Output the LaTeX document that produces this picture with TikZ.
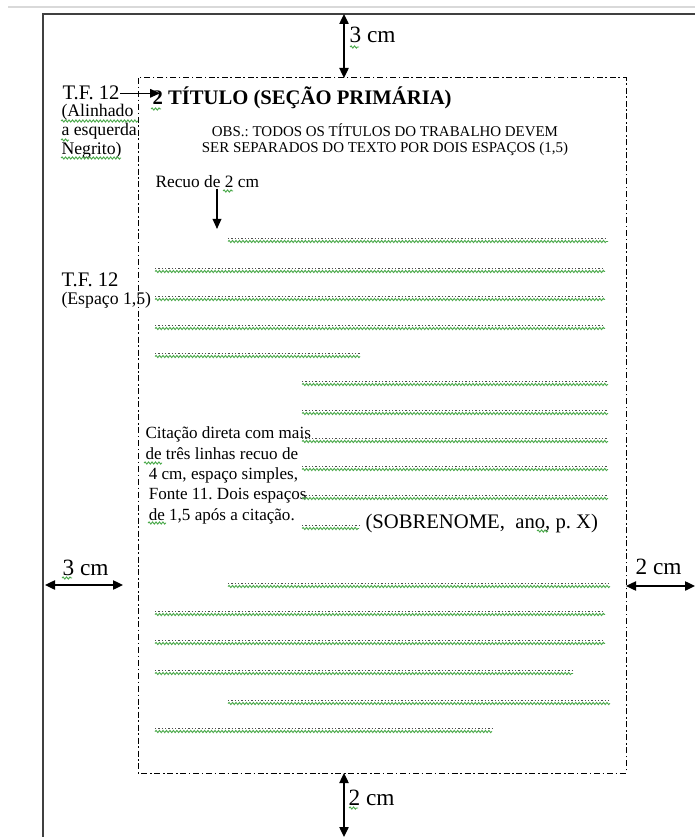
\documentclass[tikz,border=0pt]{standalone}
\usepackage{fontspec}
\setmainfont{Liberation Serif}
\usetikzlibrary{arrows.meta,decorations.pathmorphing}
\definecolor{sqgreen}{RGB}{76,170,76}
\tikzset{every picture/.style={line width=0.75pt},
  lbl/.style={inner sep=0pt, anchor=base west, font=\fontsize{15.5}{18}\selectfont},
  cmlbl/.style={inner sep=0pt, anchor=base west, font=\fontsize{17.5}{20}\selectfont},
  note/.style={inner sep=0pt, anchor=base west, align=left, font=\fontsize{13.3}{14.25}\selectfont},
  dimarr/.style={{Triangle[length=7.5pt,width=7pt]}-{Triangle[length=7.5pt,width=7pt]}, line width=1pt},
  ptr/.style={-{Triangle[length=7.5pt,width=6.5pt]}, line width=1pt},
  squig/.style={sqgreen, line width=0.7pt, decorate, decoration={snake, amplitude=0.8pt, segment length=2.6pt}},
  txtdots/.style={black!70, line width=0.9pt, dash pattern=on 1pt off 1.5pt}}
\begin{document}
\frenchspacing
\begin{tikzpicture}[x=0.75pt,y=-0.75pt]
\useasboundingbox (0,0) rectangle (695,837);
% page and text area
\draw[black!15, line width=1pt] (8,7) -- (695,7);
\draw[black!75, line width=1.3pt] (43,837) -- (43,14) -- (695,14);
\draw[dash pattern=on 4.5pt off 2pt on 1.2pt off 2pt] (138,78) rectangle (626,773);
% margins
\coordinate (pgtop) at (344,14);   \coordinate (mgtop) at (344,78);
\coordinate (mgbot) at (344,773);  \coordinate (pgbot) at (344,837);
\coordinate (pgleft) at (45,585);  \coordinate (mgleft) at (123,585);
\coordinate (mgright) at (626,586); \coordinate (pgright) at (695,586);
\draw[dimarr] (pgtop) -- (mgtop);
\draw[dimarr] (mgbot) -- (pgbot);
\draw[dimarr] (pgleft) -- (mgleft);
\draw[dimarr] (mgright) -- (pgright);
\node[cmlbl] (topcm) at (349,43) {3 cm};
\node[cmlbl] (botcm) at (348,805) {2 cm};
\node[cmlbl] (leftcm) at (62,575) {3 cm};
\node[cmlbl] (rightcm) at (635,574) {2 cm};
% title
\node[lbl, font=\fontsize{15.5}{18}\selectfont\bfseries] (titulo) at (152,105) {2 TÍTULO (SEÇÃO PRIMÁRIA)};
\node[lbl] (tf1) at (62,100) {T.F. 12};
\draw[ptr] (tf1.east) -- ([xshift=6]tf1.east -| titulo.west);
\node[note] (alin) at (61,155) {(Alinhado\\a esquerda\\Negrito)};
\node[anchor=base, inner sep=0pt, align=center, font=\fontsize{11.2}{12.4}\selectfont] (obs) at (385,153)
  {OBS.: TODOS OS TÍTULOS DO TRABALHO DEVEM\\SER SEPARADOS DO TEXTO POR DOIS ESPAÇOS (1,5)};
\node[note, font=\fontsize{13}{14}\selectfont] (recuo) at (155,188) {Recuo de 2 cm};
\coordinate (recuotip) at (217,229);
\draw[ptr] (recuo.south -| recuotip) -- (recuotip);
\node[lbl] (tf2) at (61,287) {T.F. 12};
\node[note] (esp) at (61,305) {(Espaço 1,5)};
% citation
\node[note, font=\fontsize{12.8}{15.2}\selectfont] (cit) at (145,520)
  {Citação direta com mais\\de três linhas recuo de\\\hspace*{2.5pt}4 cm, espaço simples,\\
   \hspace*{2.5pt}Fonte 11. Dois espaços\\\hspace*{2.5pt}de 1,5 após a citação.};
\node[lbl] (ref) at (365,528) {(SOBRENOME,\ \ ano,\ p.\ X)};
% text lines
\foreach \xa/\xb/\y in {228/608/240, 155/605/270, 155/605/298, 155/605/327, 155/360/355,
  302/608/383, 302/608/412, 302/608/440, 302/608/468, 302/608/497, 302/359/527,
  228/610/585, 155/605/613, 155/605/642, 155/573/672, 228/610/702, 155/492/730}{
  \draw[txtdots] (\xa,\y-1.5) -- (\xb,\y-1.5);
  \draw[squig] (\xa,\y+1.5) -- (\xb,\y+1.5);
}
% spelling marks
\foreach \xa/\xb/\y in {350/359/47, 151/161/109, 61/138/121, 61/69/140, 61/121/158, 223/233/191,
  144/162/463, 148/166/523, 537/548/531, 62/72/578, 349/358/808}{
  \draw[squig] (\xa,\y) -- (\xb,\y);
}
\end{tikzpicture}
\end{document}
